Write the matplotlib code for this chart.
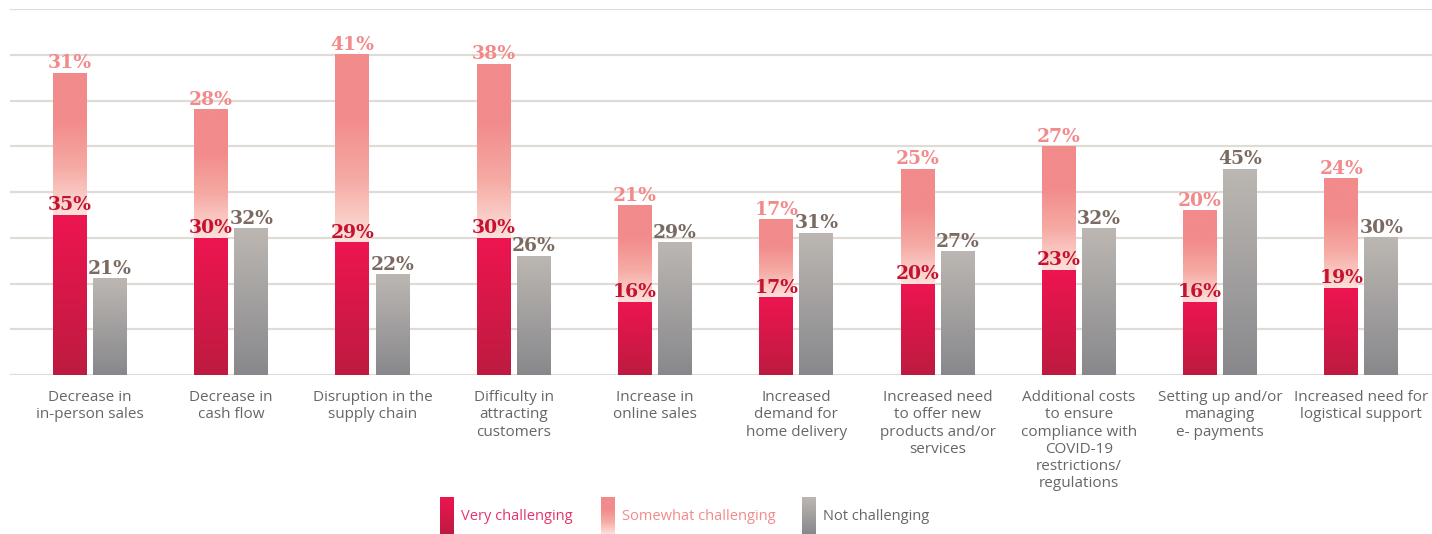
import numpy as np
import matplotlib
matplotlib.use("Agg")
import matplotlib.pyplot as plt
from matplotlib.colors import LinearSegmentedColormap

categories = ["Decrease in\nin-person sales", "Decrease in\ncash flow",
              "Disruption in the\nsupply chain", "Difficulty in\nattracting\ncustomers",
              "Increase in\nonline sales", "Increased\ndemand for\nhome delivery",
              "Increased need\nto offer new\nproducts and/or\nservices",
              "Additional costs\nto ensure\ncompliance with\nCOVID-19\nrestrictions/\nregulations",
              "Setting up and/or\nmanaging\ne- payments", "Increased need for\nlogistical support"]
very = [35, 30, 29, 30, 16, 17, 20, 23, 16, 19]
somewhat = [31, 28, 41, 38, 21, 17, 25, 27, 20, 24]
not_ch = [21, 32, 22, 26, 29, 31, 27, 32, 45, 30]

red_grad = ["#bd1b40", "#ee1550"]
pink_grad = ["#fde1db", "#f6aaa4", "#f28b8b", "#f28b8b"]
gray_grad = ["#88888c", "#bcb7b2"]

W, H = 1432, 534
fig = plt.figure(figsize=(W / 100, H / 100), dpi=100)
ax = fig.add_axes([10 / W, 1 - 375 / H, 1 - 10 / W, (375 - 9) / H])

x = np.arange(len(categories))
bw = 0.24
off = 0.142


def grad(ax, rects, colors):
    cmap = LinearSegmentedColormap.from_list("g", colors)
    for r in rects:
        x0, y0, w, h = r.get_x(), r.get_y(), r.get_width(), r.get_height()
        ax.imshow(np.linspace(0, 1, 256).reshape(-1, 1), cmap=cmap, origin="lower",
                  extent=[x0, x0 + w, y0, y0 + h], aspect="auto", zorder=3)
        r.set_visible(False)


b1 = ax.bar(x - off, very, bw)
b2 = ax.bar(x - off, somewhat, bw, bottom=very)
b3 = ax.bar(x + off, not_ch, bw)
grad(ax, b1, red_grad)
grad(ax, b2, pink_grad)
grad(ax, b3, gray_grad)

lab_font = dict(family="DejaVu Serif", fontweight="bold", fontsize=13.5)
for i in range(len(x)):
    ax.annotate(f"{very[i]}%", (x[i] - off, very[i]), xytext=(0, 0.5), textcoords="offset points",
                ha="center", va="bottom", color="#c41230", zorder=5, **lab_font)
    ax.annotate(f"{somewhat[i]}%", (x[i] - off, very[i] + somewhat[i]), xytext=(0, 0.5),
                textcoords="offset points", ha="center", va="bottom", color="#f28a8a", zorder=5, **lab_font)
    ax.annotate(f"{not_ch[i]}%", (x[i] + off, not_ch[i]), xytext=(0, 0.5), textcoords="offset points",
                ha="center", va="bottom", color="#7a6a62", zorder=5, **lab_font)

ax.set_xlim(-0.566, 9.5)
ax.set_ylim(0, 80)
ax.set_yticks(range(0, 81, 10))
ax.yaxis.grid(True, color="#e0dbd6", linewidth=1.6, zorder=0)
ax.set_axisbelow(True)
ax.tick_params(axis="y", length=0, labelleft=False)
ax.set_xticks(x, categories)
ax.tick_params(axis="x", length=0, pad=11, labelsize=11, labelcolor="#666666")
for t in ax.get_xticklabels():
    t.set_family("Open Sans")
    t.set_linespacing(1.2)
for s in ax.spines.values():
    s.set_visible(False)

# legend drawn in pixel coordinates
lax = fig.add_axes([0, 0, 1, 1], zorder=-1)
lax.set_xlim(0, W)
lax.set_ylim(H, 0)
lax.axis("off")
leg = [("Very challenging", 440, red_grad, "#e8336a"),
       ("Somewhat challenging", 601, pink_grad, "#f28b8b"),
       ("Not challenging", 802, gray_grad, "#666666")]
for name, lx, cols, tc in leg:
    cmap = LinearSegmentedColormap.from_list("g", cols)
    lax.imshow(np.linspace(0, 1, 256).reshape(-1, 1), cmap=cmap, origin="lower",
               extent=[lx, lx + 14, H, 497], aspect="auto")
    lax.text(lx + 21, 517, name, color=tc, fontsize=10.5, family="Open Sans", va="center")
lax.set_xlim(0, W)
lax.set_ylim(H, 0)

fig.savefig("out.png", dpi=100)
